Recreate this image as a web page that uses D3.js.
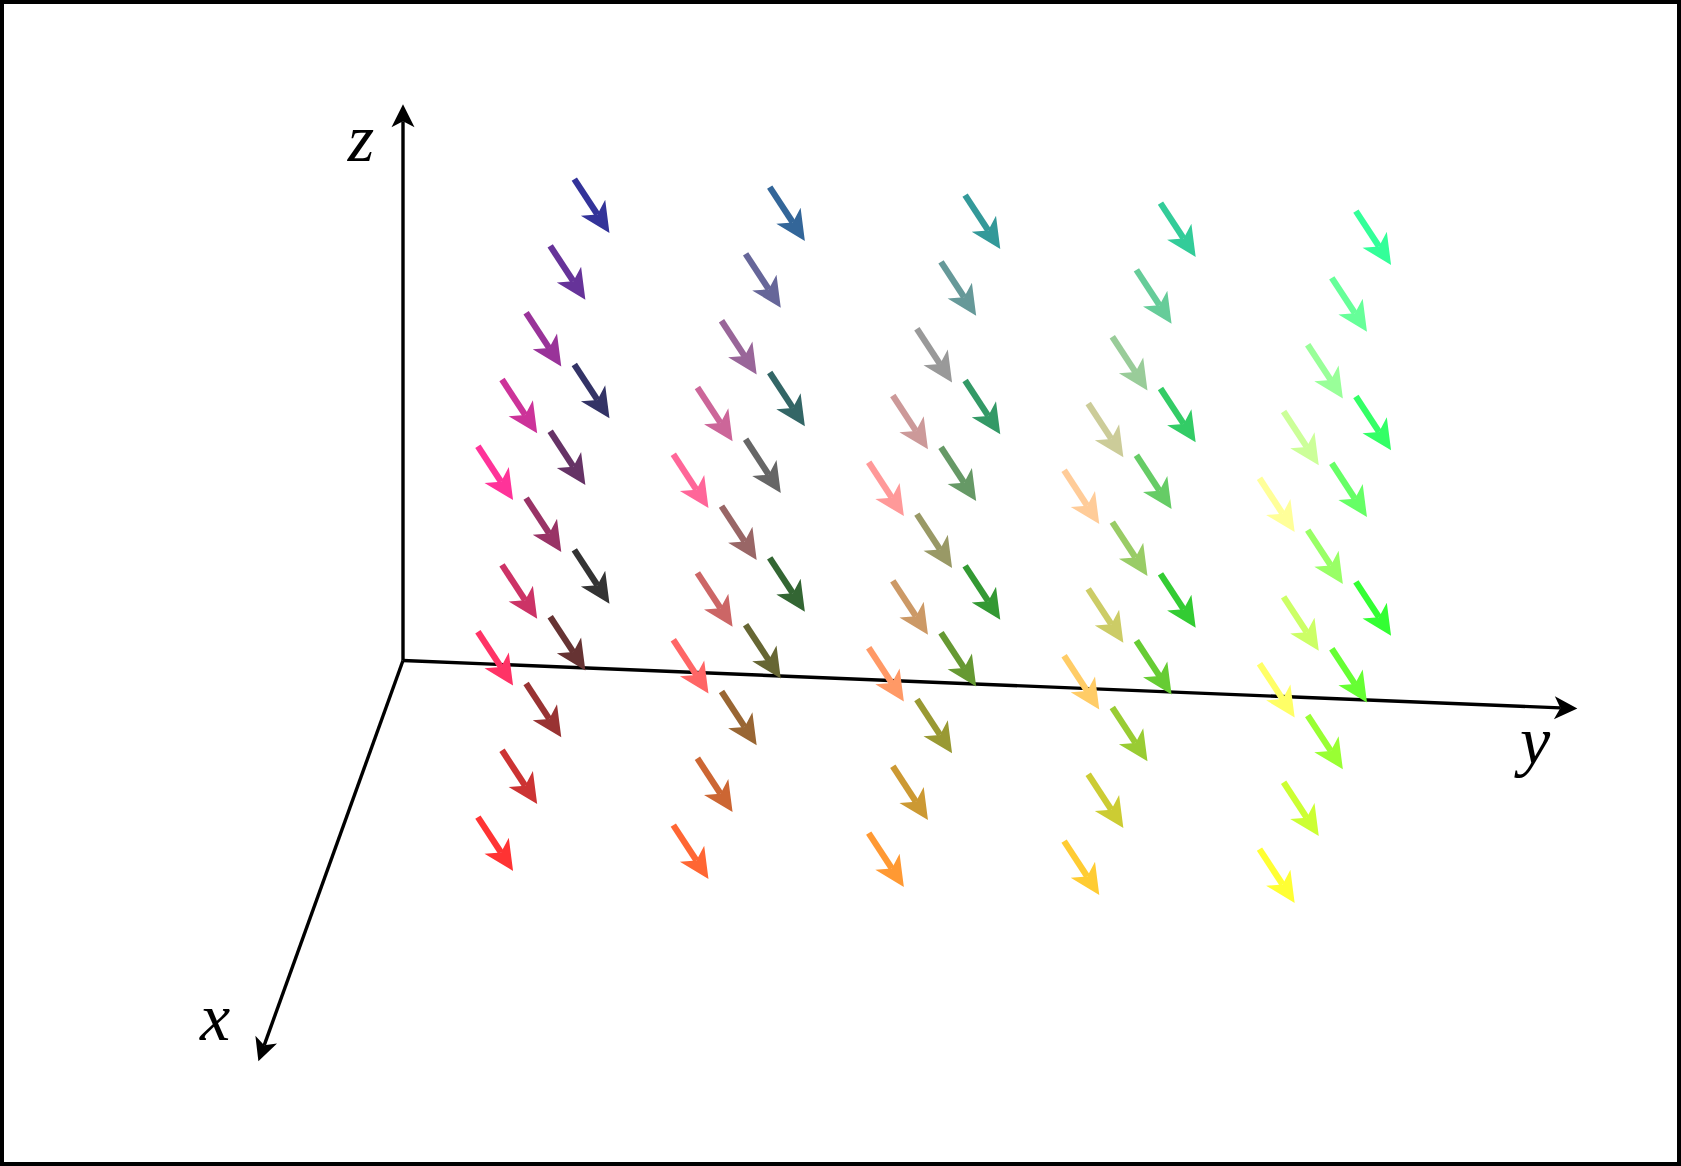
<!DOCTYPE html>
<html><head><meta charset="utf-8">
<script src="https://cdn.jsdelivr.net/npm/d3@7"></script>
<style>html,body{margin:0;padding:0;background:#fff}svg{display:block}
text{font-family:"Liberation Serif",serif;font-style:italic;fill:#000}</style></head>
<body><svg id="c" width="1681" height="1166"></svg>
<script>
const xValues=[0.2,0.4,0.6,0.8,1.0];
const yValues=[0.2,0.4,0.6,0.8,1.0];
const zValues=[0.2,0.4,0.6];
const vector={u:0,v:0.036,w:-0.0565};
const axisEnds={x:1.2,y:1.202,z:0.6};
const axisLabels=[{t:"z",x:0,y:-0.043,z:0.537},{t:"x",x:1.17,y:-0.0481,z:0.010},{t:"y",x:0,y:1.1588,z:-0.0617}];

const W=1681,H=1166;
const svg=d3.select("#c");
// oblique projection: each 3D axis maps linearly on to the page
const sx={x:d3.scaleLinear([0,1],[0,-120.5]),y:d3.scaleLinear([0,1],[403,1380]),z:d3.scaleLinear([0,1],[0,0])};
const sy={x:d3.scaleLinear([0,1],[0,334]),y:d3.scaleLinear([0,1],[660.5,700.5]),z:d3.scaleLinear([0,1],[0,-927])};
const proj=(x,y,z)=>[sx.x(x)+sx.y(y)+sx.z(z),sy.x(x)+sy.y(y)+sy.z(z)];
const channel=d3.scaleLinear([0,1],[0,255]);
const colour=(x,y,z)=>d3.rgb(channel(x),channel(y),channel(z)).formatHex();

function arrowPaths(a,b,hl,hw,notch){
  const L=Math.hypot(b[0]-a[0],b[1]-a[1]),d=[(b[0]-a[0])/L,(b[1]-a[1])/L],n=[-d[1],d[0]];
  const p=(al,pe)=>[b[0]+d[0]*al+n[0]*pe,b[1]+d[1]*al+n[1]*pe];
  return {shaft:d3.line()([a,p(-notch,0)]),head:d3.line()([b,p(-hl,hw),p(-notch,0),p(-hl,-hw)])+"Z"};
}

svg.append("rect").attr("x",2).attr("y",2).attr("width",W-4).attr("height",H-4)
  .attr("fill","#fff").attr("stroke","#000").attr("stroke-width",4);

const origin=proj(0,0,0);
const axes=[proj(axisEnds.x,0,0),proj(0,axisEnds.y,0),proj(0,0,axisEnds.z)];
const ga=svg.append("g");
axes.forEach(e=>{
  const a=arrowPaths(origin,e,23,11.5,17);
  ga.append("path").attr("d",a.shaft).attr("stroke","#000").attr("stroke-width",3.4).attr("fill","none");
  ga.append("path").attr("d",a.head).attr("fill","#000");
});

const points=d3.cross(d3.cross(xValues,yValues),zValues).map(([[x,y],z])=>({x,y,z}));
// back-to-front: far x first, low z first
points.sort((p,q)=>d3.ascending(p.z,q.z)||d3.ascending(p.x,q.x)||d3.ascending(p.y,q.y));
const g=svg.append("g");
g.selectAll("g").data(points).join("g").each(function(p){
  const a=proj(p.x,p.y,p.z),b=proj(p.x+vector.u,p.y+vector.v,p.z+vector.w);
  const s=arrowPaths(a,b,30,14.5,22),c=colour(p.x,p.y,p.z),el=d3.select(this);
  el.append("path").attr("d",s.shaft).attr("stroke",c).attr("stroke-width",6.3).attr("fill","none");
  el.append("path").attr("d",s.head).attr("fill",c);
});

svg.append("g").selectAll("text").data(axisLabels).join("text")
  .attr("x",d=>proj(d.x,d.y,d.z)[0]).attr("y",d=>proj(d.x,d.y,d.z)[1])
  .attr("font-size",68).attr("text-anchor","middle").text(d=>d.t);
</script></body></html>
